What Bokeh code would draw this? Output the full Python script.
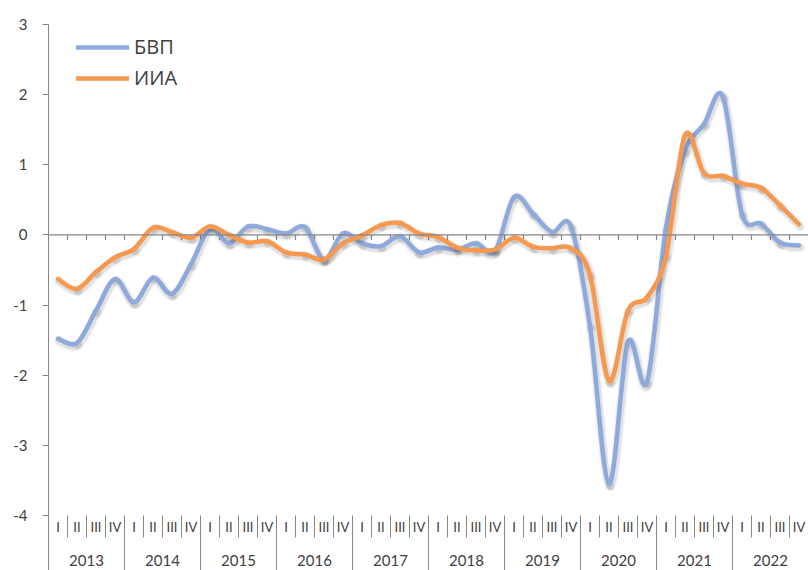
import numpy as np
from bokeh.plotting import figure
from bokeh.models import (Range1d, LinearAxis, FixedTicker, Span, Legend,
                          LegendItem, ColumnDataSource)
from bokeh.embed import file_html
from bokeh.resources import INLINE

# ---------------- data ----------------
years = ["2013", "2014", "2015", "2016", "2017", "2018", "2019", "2020", "2021", "2022"]
quarter_labels = ["I", "II", "III", "IV"]
series_names = ["БВП", "ИИА"]

bvp = [-1.48, -1.54, -1.08, -0.63,
       -0.96, -0.61, -0.84, -0.42,
       0.09, -0.12, 0.12, 0.08,
       0.02, 0.11, -0.35, 0.02,
       -0.12, -0.16, -0.02, -0.25,
       -0.18, -0.21, -0.12, -0.23,
       0.54, 0.30, 0.04, 0.12,
       -1.30, -3.55, -1.53, -2.10,
       0.10, 1.20, 1.58, 1.97,
       0.30, 0.16, -0.11, -0.15]

iia = [-0.63, -0.77, -0.53, -0.32,
       -0.20, 0.10, 0.04, -0.04,
       0.12, 0.00, -0.11, -0.09,
       -0.25, -0.28, -0.35, -0.12,
       -0.01, 0.14, 0.17, 0.02,
       -0.03, -0.18, -0.22, -0.21,
       -0.04, -0.17, -0.19, -0.19,
       -0.57, -2.08, -1.08, -0.89,
       -0.30, 1.42, 0.88, 0.84,
       0.73, 0.67, 0.42, 0.15]

y_ticks = [-4, -3, -2, -1, 0, 1, 2, 3]

# ---------------- styles ----------------
BLUE = "#8EA9DC"
ORANGE = "#F7984F"
AXIS = "#868686"
TXT = "#404040"
W, H = 808, 570
B_LEFT, B_TOP, B_BOTTOM = 48, 24, 55
FRAME_H = H - B_TOP - B_BOTTOM
FRAME_W = W - B_LEFT

n_q = len(years) * len(quarter_labels)
y_lo, y_hi = y_ticks[0], y_ticks[-1]
ppu_y = FRAME_H / (y_hi - y_lo)
ppu_x = FRAME_W / n_q


def bezier_source(vals, dx_px=0.0, dy_px=0.0):
    y = np.asarray(vals, dtype=float)
    n = len(y)
    x = np.arange(n) + 0.5
    i = np.arange(n - 1)
    ip = np.clip(i - 1, 0, n - 1)
    inx = np.clip(i + 2, 0, n - 1)
    cx0 = x[i] + (x[i + 1] - x[ip]) / 6.0
    cy0 = y[i] + (y[i + 1] - y[ip]) / 6.0
    cx1 = x[i + 1] - (x[inx] - x[i]) / 6.0
    cy1 = y[i + 1] - (y[inx] - y[i]) / 6.0
    ox = dx_px / ppu_x
    oy = -dy_px / ppu_y
    return ColumnDataSource(dict(
        x0=x[i] + ox, y0=y[i] + oy, x1=x[i + 1] + ox, y1=y[i + 1] + oy,
        cx0=cx0 + ox, cy0=cy0 + oy, cx1=cx1 + ox, cy1=cy1 + oy))


p = figure(width=W, height=H, output_backend="svg", toolbar_location=None,
           x_range=Range1d(0, n_q), y_range=Range1d(y_lo, y_hi),
           x_axis_location=None, min_border_left=B_LEFT, min_border_right=0,
           min_border_top=B_TOP, min_border_bottom=B_BOTTOM)
p.outline_line_color = None
p.grid.visible = False
p.background_fill_color = "white"
p.border_fill_color = "white"

# y axis
ya = p.yaxis[0]
ya.ticker = FixedTicker(ticks=y_ticks, minor_ticks=[])
ya.major_label_overrides = {t: str(t) for t in y_ticks}
ya.axis_line_color = AXIS
ya.major_tick_line_color = AXIS
ya.major_tick_out = 6
ya.major_tick_in = 0
ya.minor_tick_line_color = None
ya.major_label_standoff = 15
ya.major_label_text_font = "Lato"
ya.major_label_text_font_size = "15px"
ya.major_label_text_color = TXT

# horizontal category axis line at zero with ticks at category boundaries
p.add_layout(Span(location=0, dimension="width", line_color=AXIS, line_width=1.2))
bounds = np.arange(0, n_q + 1)
tick_len = 5 / ppu_y
p.segment(x0=bounds, y0=np.zeros(len(bounds)), x1=bounds,
          y1=np.full(len(bounds), -tick_len), line_color=AXIS, line_width=1.2)

# quarter axis (labels sit between the separator ticks)
q_centers = [float(i) + 0.5 for i in range(n_q)]
ax_q = LinearAxis(ticker=FixedTicker(ticks=q_centers, minor_ticks=[float(b) for b in bounds]))
ax_q.major_label_overrides = {c: quarter_labels[i % 4] for i, c in enumerate(q_centers)}
ax_q.axis_line_color = None
ax_q.major_tick_line_color = None
ax_q.major_tick_out = 0
ax_q.major_tick_in = 0
ax_q.minor_tick_line_color = AXIS
ax_q.minor_tick_out = 22
ax_q.minor_tick_in = 0
ax_q.major_label_standoff = -19
ax_q.major_label_text_font = "Lato"
ax_q.major_label_text_font_size = "13px"
ax_q.major_label_text_color = TXT
p.add_layout(ax_q, "below")

# year axis
y_centers = [4 * k + 2 for k in range(len(years))]
ax_y = LinearAxis(ticker=FixedTicker(ticks=y_centers,
                                     minor_ticks=[4 * k for k in range(len(years) + 1)]))
ax_y.major_label_overrides = {c: years[k] for k, c in enumerate(y_centers)}
ax_y.axis_line_color = None
ax_y.major_tick_line_color = None
ax_y.major_tick_out = 0
ax_y.major_tick_in = 0
ax_y.minor_tick_line_color = AXIS
ax_y.minor_tick_out = 40
ax_y.minor_tick_in = 0
ax_y.major_label_standoff = -23
ax_y.major_label_text_font = "Lato"
ax_y.major_label_text_font_size = "15px"
ax_y.major_label_text_color = TXT
p.add_layout(ax_y, "below")

# series with soft shadow
renderers = []
for vals, col in ((bvp, BLUE), (iia, ORANGE)):
    sh = bezier_source(vals, dx_px=1.0, dy_px=2.0)
    p.bezier("x0", "y0", "x1", "y1", "cx0", "cy0", "cx1", "cy1", source=sh,
             line_color="black", line_alpha=0.05, line_width=10, line_cap="round")
    p.bezier("x0", "y0", "x1", "y1", "cx0", "cy0", "cx1", "cy1", source=sh,
             line_color="black", line_alpha=0.07, line_width=7, line_cap="round")
    r = p.bezier("x0", "y0", "x1", "y1", "cx0", "cy0", "cx1", "cy1",
                 source=bezier_source(vals), line_color=col, line_width=4.5,
                 line_cap="round", line_join="round")
    renderers.append(r)

legend = Legend(items=[LegendItem(label=series_names[k], renderers=[renderers[k]])
                       for k in range(2)],
                location=(28, 424), orientation="vertical",
                glyph_width=53, glyph_height=26, label_height=26, spacing=4,
                padding=10, margin=0, label_standoff=5,
                label_text_font="Open Sans", label_text_font_size="20px",
                label_text_color=TXT, border_line_color=None,
                background_fill_alpha=0)
p.add_layout(legend)

open("out.html", "w").write(file_html(p, INLINE))
